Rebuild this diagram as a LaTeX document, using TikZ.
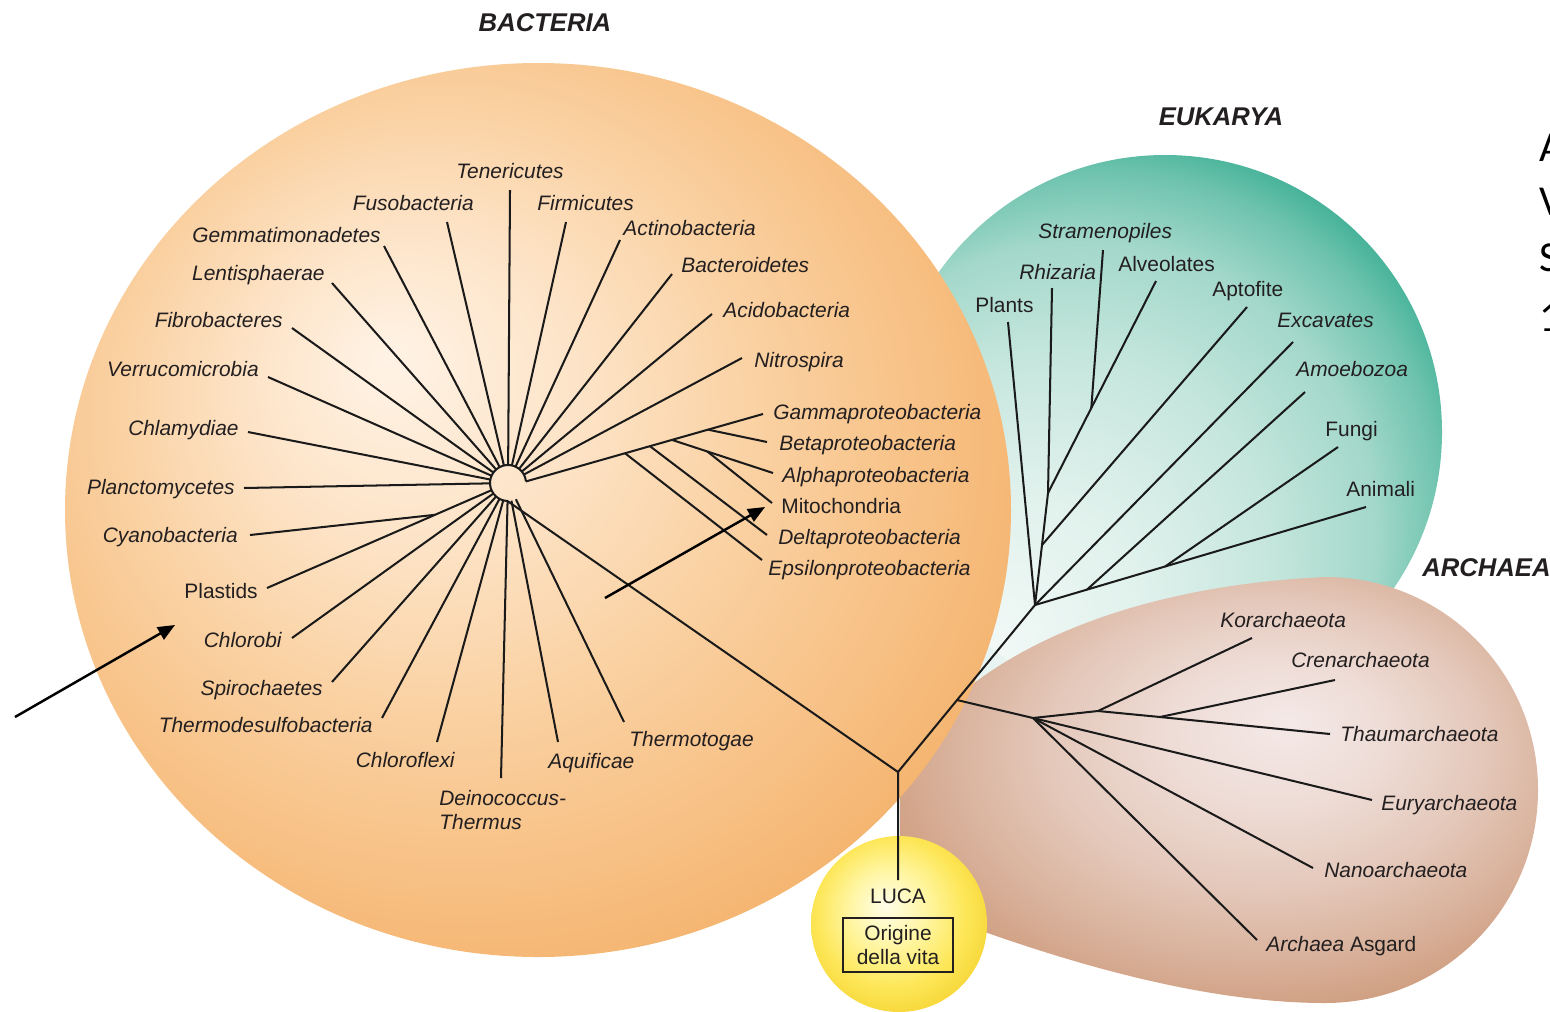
\documentclass[tikz,border=0pt]{standalone}
\usepackage{fontspec}
\setmainfont{Liberation Sans}
\newfontfamily\calib{Carlito}
\usetikzlibrary{calc,arrows.meta}

\definecolor{txtC}{HTML}{231F20}
\definecolor{lineC}{HTML}{1A1A1A}
\definecolor{bc0}{HTML}{FFF3E6}
\definecolor{bc1}{HTML}{FDE4C8}
\definecolor{bc2}{HTML}{FAD1A2}
\definecolor{bc3}{HTML}{F7BF82}
\definecolor{bc4}{HTML}{F4B26C}
\definecolor{bc5}{HTML}{EEA45A}
\definecolor{bc6}{HTML}{E4964A}
\definecolor{ec0}{HTML}{F2F9F7}
\definecolor{ec1}{HTML}{E0F1EC}
\definecolor{ec2}{HTML}{C5E6DD}
\definecolor{ec3}{HTML}{A3D8CA}
\definecolor{ec4}{HTML}{6EC3AE}
\definecolor{ec5}{HTML}{40B096}
\definecolor{ec6}{HTML}{22A083}
\definecolor{ac0}{HTML}{F4E9E7}
\definecolor{ac1}{HTML}{EEDCD6}
\definecolor{ac2}{HTML}{E4C8BA}
\definecolor{ac3}{HTML}{D9B29C}
\definecolor{ac4}{HTML}{CF9E80}
\definecolor{ac5}{HTML}{C58C6A}
\definecolor{ac6}{HTML}{B77855}
\definecolor{lc0}{HTML}{FFFDE8}
\definecolor{lc1}{HTML}{FFF5A0}
\definecolor{lc2}{HTML}{FDE758}
\definecolor{lc3}{HTML}{F6D435}
\definecolor{lc4}{HTML}{E8B820}
\definecolor{eukpale}{HTML}{E8F4F1}

\pgfdeclareradialshading{bactshade}{\pgfpoint{-8bp}{8.5bp}}{color(0bp)=(bc0); color(8.5bp)=(bc1); color(17bp)=(bc2); color(25.5bp)=(bc3); color(31.1bp)=(bc4); color(34.3bp)=(bc5); color(35.4bp)=(bc6); color(50bp)=(bc6)}
\pgfdeclareradialshading{eukshade}{\pgfpoint{-16bp}{-20bp}}{color(0bp)=(ec0); color(10.6bp)=(ec1); color(19.4bp)=(ec2); color(26.5bp)=(ec3); color(31.1bp)=(ec4); color(33.9bp)=(ec5); color(35.4bp)=(ec6); color(50bp)=(ec6)}
\pgfdeclareradialshading{archshade}{\pgfpoint{5.5bp}{8bp}}{color(0bp)=(ac0); color(8.5bp)=(ac1); color(17bp)=(ac2); color(24bp)=(ac3); color(29.7bp)=(ac4); color(33.9bp)=(ac5); color(35.4bp)=(ac6); color(50bp)=(ac6)}
\pgfdeclareradialshading{lucashade}{\pgfpoint{-4bp}{5.5bp}}{color(0bp)=(lc0); color(11.3bp)=(lc1); color(21.2bp)=(lc2); color(29.7bp)=(lc3); color(35.4bp)=(lc4); color(50bp)=(lc4)}

\begin{document}
\begin{tikzpicture}[x=0.02cm,y=-0.02cm,
  branch/.style={line width=1.15pt, draw=lineC, line join=round},
  lab/.style={inner sep=0pt, text=txtC, font=\fontsize{11.9}{14}\selectfont\itshape},
  labu/.style={inner sep=0pt, text=txtC, font=\fontsize{11.9}{14}\selectfont},
  ttl/.style={inner sep=0pt, text=txtC, font=\fontsize{14.6}{17}\selectfont\bfseries\itshape},
  edge letter/.style={inner sep=0pt, text=black, font=\calib\fontsize{24.3}{28}\selectfont},
  pointer/.style={line width=1.4pt, draw=black, -{Triangle[length=0.34cm,width=0.28cm]}}
]
\useasboundingbox (0,0) rectangle (1550,1011);

% ---------------- blobs ----------------
\fill[eukpale] (890,790) -- (945,520) -- (1100,620) -- (1000,760) -- cycle;
\shade[shading=eukshade] (1165,432) circle [radius=277];
\shade[shading=archshade] (900,760) .. controls (980,640) and (1150,585) .. (1325,577)
  .. controls (1443,577) and (1538,672) .. (1538,790)
  .. controls (1538,908) and (1443,1003) .. (1325,1003)
  .. controls (1200,1003) and (1050,960) .. (900,900) -- cycle;
\shade[shading=bactshade] (538,510) ellipse [x radius=473, y radius=447];
\shade[shading=lucashade] (899,924) circle [radius=88];

% ---------------- titles ----------------
\node[ttl, anchor=base] (tBac) at (545,31) {BACTERIA};
\node[ttl, anchor=base] (tEuk) at (1221,125) {EUKARYA};
\node[ttl, anchor=base west] (tArc) at (1422,576) {ARCHAEA};

% ---------------- bacteria tree ----------------
\coordinate (H) at (508,483);
\coordinate (Hc) at ($(H)+(5:0.36cm)$);
\coordinate (R) at (898,772);
\coordinate (Rl) at (898,880);

\coordinate (eTen) at (510,190);
\coordinate (eFus) at (447,222);
\coordinate (eGem) at (384,246);
\coordinate (eLen) at (332,283);
\coordinate (eFib) at (292,328);
\coordinate (eVer) at (268,377);
\coordinate (eChl) at (248,432);
\coordinate (ePla) at (244,488);
\coordinate (eCya) at (250,535);
\coordinate (ePls) at (267,588);
\coordinate (jCya) at ($(H)!0.303!(ePls)$);
\coordinate (eChb) at (292,638);
\coordinate (eSpi) at (332,682);
\coordinate (eThd) at (382,718);
\coordinate (eCfx) at (437,742);
\coordinate (eDei) at (501,778);
\coordinate (eAqu) at (558,742);
\coordinate (eTmt) at (624,722);
\coordinate (eFir) at (566,222);
\coordinate (eAct) at (620,240);
\coordinate (eBac) at (672,274);
\coordinate (eAci) at (712,314);
\coordinate (eNit) at (742,358);

\coordinate (eGam) at (763,414);
\coordinate (e1) at ($(Hc)!0.418!(eGam)$);
\coordinate (d1) at ($(Hc)!0.523!(eGam)$);
\coordinate (a1) at ($(Hc)!0.616!(eGam)$);
\coordinate (b1) at ($(Hc)!0.768!(eGam)$);
\coordinate (eBet) at (767,442);
\coordinate (eAlp) at (773,473);
\coordinate (m1) at ($(a1)!0.35!(eAlp)$);
\coordinate (eMit) at (772,503);
\coordinate (eDel) at (767,535);
\coordinate (eEps) at (762,560);

\foreach \e in {eTen,eFus,eGem,eLen,eFib,eVer,eChl,ePla,ePls,eChb,eSpi,eThd,eCfx,eDei,eAqu,eTmt,eFir,eAct,eBac,eAci,eNit}
  \draw[branch] ($(H)!0.36cm!(\e)$) -- (\e);
\draw[branch] (eCya) -- (jCya);
\draw[branch] (Hc) arc[start angle=5, end angle=268, radius=0.36cm] -- (R);
\draw[branch] (Hc) -- (eGam);
\draw[branch] (b1) -- (eBet);
\draw[branch] (a1) -- (eAlp);
\draw[branch] (m1) -- (eMit);
\draw[branch] (d1) -- (eDel);
\draw[branch] (e1) -- (eEps);

% ---------------- root, eukarya, archaea ----------------
\coordinate (EB) at (1035,605);
\coordinate (A1) at ($(R)!0.431!(EB)$);
\draw[branch] (Rl) -- (R) -- (EB);

\coordinate (ePlt) at (1008,322);
\coordinate (eAni) at (1366,507);
\coordinate (am1) at ($(EB)!0.157!(eAni)$);
\coordinate (fu1) at ($(EB)!0.393!(eAni)$);
\coordinate (eAmo) at (1305,392);
\coordinate (eFun) at (1338,447);
\coordinate (eExc) at (1293,342);
\coordinate (ap1) at (1042,545);
\coordinate (rh1) at (1048,493);
\coordinate (eRhi) at (1052,288);
\coordinate (eApt) at (1247,307);
\coordinate (eAlv) at (1156,281);
\coordinate (st1) at ($(rh1)!0.401!(eAlv)$);
\coordinate (eStr) at (1103,250);

\draw[branch] (EB) -- (ePlt);
\draw[branch] (EB) -- (eAni);
\draw[branch] (am1) -- (eAmo);
\draw[branch] (fu1) -- (eFun);
\draw[branch] (EB) -- (eExc);
\draw[branch] (EB) -- (ap1) -- (rh1) -- (eRhi);
\draw[branch] (ap1) -- (eApt);
\draw[branch] (rh1) -- (eAlv);
\draw[branch] (st1) -- (eStr);

\coordinate (AH) at (1033,718);
\coordinate (ko1) at (1098,711);
\coordinate (cr1) at (1160,717);
\coordinate (eTha) at (1330,734);
\coordinate (eKor) at (1252,638);
\coordinate (eCre) at (1335,680);
\coordinate (eEur) at (1372,800);
\coordinate (eNan) at (1313,868);
\coordinate (eAsg) at (1257,940);

\draw[branch] (A1) -- (AH) -- (ko1) -- (cr1) -- (eTha);
\draw[branch] (ko1) -- (eKor);
\draw[branch] (cr1) -- (eCre);
\draw[branch] (AH) -- (eEur);
\draw[branch] (AH) -- (eNan);
\draw[branch] (AH) -- (eAsg);

% ---------------- bacteria labels ----------------
\node[lab, anchor=base] (lTen) at (510,178) {Tenericutes};
\node[lab, anchor=base east] (lFus) at (474,210) {Fusobacteria};
\node[lab, anchor=base east] (lGem) at (381,242) {Gemmatimonadetes};
\node[lab, anchor=base east] (lLen) at (325,280) {Lentisphaerae};
\node[lab, anchor=base east] (lFib) at (283,327) {Fibrobacteres};
\node[lab, anchor=base east] (lVer) at (259,376) {Verrucomicrobia};
\node[lab, anchor=base east] (lChl) at (239,435) {Chlamydiae};
\node[lab, anchor=base east] (lPla) at (235,494) {Planctomycetes};
\node[lab, anchor=base east] (lCya) at (238,542) {Cyanobacteria};
\node[labu, anchor=base east] (lPls) at (258,598) {Plastids};
\node[lab, anchor=base east] (lChb) at (282,647) {Chlorobi};
\node[lab, anchor=base east] (lSpi) at (323,695) {Spirochaetes};
\node[lab, anchor=base east] (lThd) at (373,732) {Thermodesulfobacteria};
\node[lab, anchor=base east] (lCfx) at (455,767) {Chloroflexi};
\node[lab, anchor=base west] (lDei) at (439,805) {Deinococcus-};
\node[lab, anchor=base west] (lDei2) at (439,829) {Thermus};
\node[lab, anchor=base west] (lAqu) at (548,768) {Aquificae};
\node[lab, anchor=base west] (lTmt) at (629,746) {Thermotogae};
\node[lab, anchor=base west] (lFir) at (537,210) {Firmicutes};
\node[lab, anchor=base west] (lAct) at (623,235) {Actinobacteria};
\node[lab, anchor=base west] (lBac) at (681,272) {Bacteroidetes};
\node[lab, anchor=base west] (lAci) at (723,317) {Acidobacteria};
\node[lab, anchor=base west] (lNit) at (754,367) {Nitrospira};
\node[lab, anchor=base west] (lGam) at (773,419) {Gammaproteobacteria};
\node[lab, anchor=base west] (lBet) at (779,450) {Betaproteobacteria};
\node[lab, anchor=base west] (lAlp) at (782,482) {Alphaproteobacteria};
\node[labu, anchor=base west] (lMit) at (781,513) {Mitochondria};
\node[lab, anchor=base west] (lDel) at (778,544) {Deltaproteobacteria};
\node[lab, anchor=base west] (lEps) at (768,575) {Epsilonproteobacteria};

% ---------------- eukarya labels ----------------
\node[lab, anchor=base west] (lStr) at (1038,238) {Stramenopiles};
\node[lab, anchor=base west] (lRhi) at (1019,279) {Rhizaria};
\node[labu, anchor=base west] (lAlv) at (1118,271) {Alveolates};
\node[labu, anchor=base west] (lPlt) at (975,312) {Plants};
\node[labu, anchor=base west] (lApt) at (1212,296) {Aptofite};
\node[lab, anchor=base west] (lExc) at (1277,327) {Excavates};
\node[lab, anchor=base west] (lAmo) at (1296,376) {Amoebozoa};
\node[labu, anchor=base west] (lFun) at (1325,436) {Fungi};
\node[labu, anchor=base west] (lAni) at (1346,496) {Animali};

% ---------------- archaea labels ----------------
\node[lab, anchor=base west] (lKor) at (1220,627) {Korarchaeota};
\node[lab, anchor=base west] (lCre) at (1291,667) {Crenarchaeota};
\node[lab, anchor=base west] (lTha) at (1340,741) {Thaumarchaeota};
\node[lab, anchor=base west] (lEur) at (1381,810) {Euryarchaeota};
\node[lab, anchor=base west] (lNan) at (1324,877) {Nanoarchaeota};
\node[labu, anchor=base west] (lAsg) at (1266,951) {\textit{Archaea} Asgard};

% ---------------- LUCA ----------------
\node[labu, anchor=base] (luca) at (898,903) {LUCA};
\node[labu, draw=txtC, line width=0.8pt, align=center, minimum width=2.2cm, minimum height=1.08cm,
  font=\fontsize{11.9}{13.7}\selectfont] (origine) at (898,945) {Origine\\della vita};

% ---------------- arrows ----------------
\coordinate (p1s) at (15,717);
\coordinate (p1e) at (175,625);
\coordinate (p2s) at (605,598);
\coordinate (p2e) at (765,507);
\draw[pointer] (p1s) -- (p1e);
\draw[pointer] (p2s) -- (p2e);

% ---------------- text cut at the right edge (as in the reference) ----------------
\node[edge letter, anchor=base west] (cutA) at (1539,161) {A};
\node[edge letter, anchor=base west] (cutV) at (1539,215) {V};
\node[edge letter, anchor=base west] (cutS) at (1539,271) {S};
\node[edge letter, anchor=base west] (cutN) at (1539,331) {1};
\end{tikzpicture}
\end{document}
